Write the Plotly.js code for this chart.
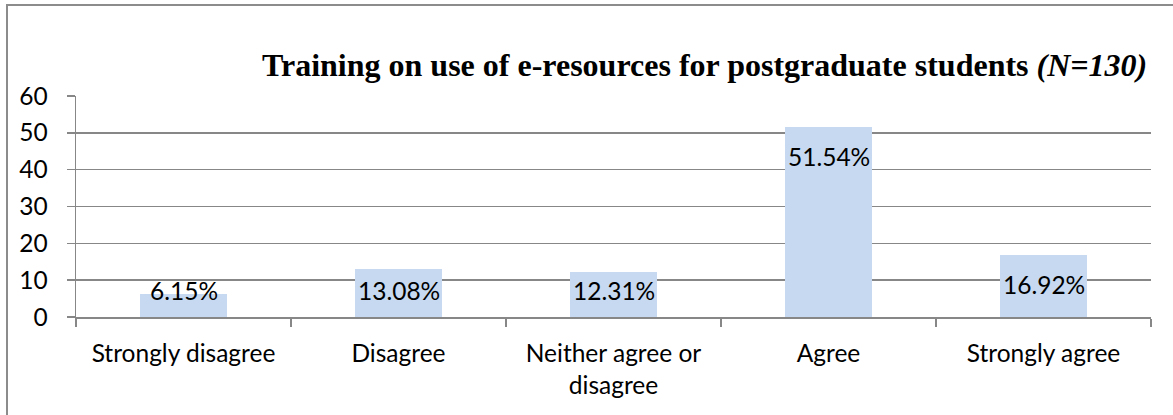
<!DOCTYPE html>
<html><head><meta charset="utf-8">
<script src="https://cdn.plot.ly/plotly-3.0.1.min.js"></script>
<style>
html,body{margin:0;padding:0;background:#fff;}
#wrap{position:relative;width:1173px;height:415px;overflow:hidden;}
#frame{position:absolute;left:6px;top:4px;width:1300px;height:500px;border-left:2px solid #8c8c8c;border-top:2px solid #8c8c8c;box-sizing:border-box;pointer-events:none;z-index:5;}
#chart{position:absolute;left:0;top:0;width:1173px;height:415px;}
</style></head>
<body><div id="wrap"><div id="chart"></div><div id="frame"></div></div>
<script>
const categories = ["Strongly disagree", "Disagree", "Neither agree or<br>disagree", "Agree", "Strongly agree"];
const values = [6.15, 13.08, 12.31, 51.54, 16.92];
const labels = ["6.15%", "13.08%", "12.31%", "51.54%", "16.92%"];
const yTicks = [0, 10, 20, 30, 40, 50, 60];

const gray = "#878787";
const labelFont = {family: "Lato, 'Open Sans', sans-serif", size: 24.5, color: "#000"};

const trace = {
  type: "bar",
  x: categories,
  y: values,
  marker: {color: "#c6d9f0", line: {width: 0}},
  width: 0.405,
  hoverinfo: "none"
};

const annotations = categories.map((c, i) => ({
  x: c, y: Math.max(values[i] - 8, 7.1), xref: "x", yref: "y",
  text: labels[i], showarrow: false, yanchor: "middle", xanchor: "center",
  font: labelFont
}));
annotations.push({
  xref: "paper", yref: "paper", x: (704 - 76) / 1075, y: 1, xanchor: "center", yanchor: "bottom",
  yshift: 11,
  text: "<b>Training on use of e-resources for postgraduate students <i>(N=130)</i></b>",
  showarrow: false,
  font: {family: "'Liberation Serif', 'Times New Roman', serif", size: 32, color: "#000"}
});

const layout = {
  width: 1173, height: 415,
  margin: {l: 76, r: 22, t: 96, b: 98},
  paper_bgcolor: "#fff", plot_bgcolor: "#fff",
  showlegend: false,
  bargap: 0,
  xaxis: {
    type: "category",
    tickson: "boundaries",
    ticks: "outside", ticklen: 8, tickcolor: gray, tickwidth: 1.5,
    showline: true, linecolor: gray, linewidth: 1.5,
    showgrid: false,
    tickfont: labelFont,
    ticklabelstandoff: 14
  },
  yaxis: {
    range: [0, 60],
    tickvals: yTicks,
    ticktext: yTicks.map(String),
    ticks: "outside", ticklen: 8, tickcolor: gray, tickwidth: 1.5,
    showline: true, linecolor: gray, linewidth: 1.5,
    showgrid: true, gridcolor: gray, gridwidth: 1.5,
    zeroline: false,
    tickfont: labelFont,
    ticklabelstandoff: 14
  },
  annotations: annotations
};

Plotly.newPlot("chart", [trace], layout, {displayModeBar: false, staticPlot: true});
</script>
</body></html>
